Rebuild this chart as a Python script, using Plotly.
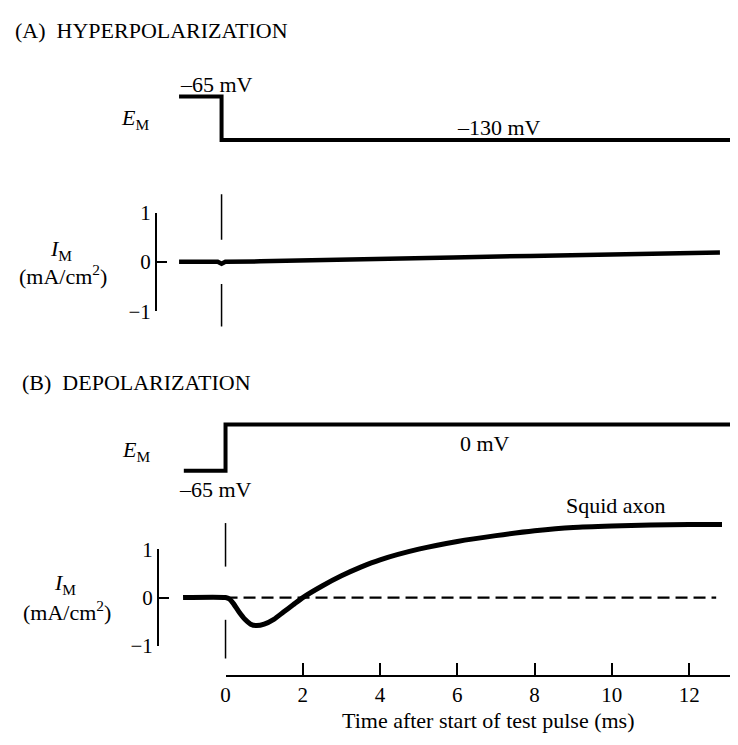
import plotly.graph_objects as go

# ---------------- data ----------------
time_ticks = [0, 2, 4, 6, 8, 10, 12]

# (A) hyperpolarization
t_em_a = [-1.1, 0.0, 13.6]
em_a = [-65, -130, -130]
t_im_a = [-1.1, -0.1, 0.0, 0.1, 1.0, 2.0, 4.0, 6.0, 8.0, 10.0, 12.0, 12.9]
im_a = [0.0, 0.0, -0.04, 0.0, 0.01, 0.03, 0.06, 0.09, 0.12, 0.15, 0.18, 0.19]
mark_a_t = [0, 0, None, 0, 0]
mark_a_i = [1.37, 0.45, None, -0.45, -1.31]

# (B) depolarization
t_em_b = [-1.08, 0.0, 13.5]
em_b = [-65, 0, 0]
t_im_b = [-1.1, 0.0, 0.1, 0.2, 0.35, 0.5, 0.65, 0.8, 1.0, 1.25, 1.5, 1.75, 2.0,
          2.5, 3.0, 3.5, 4.0, 5.0, 6.0, 7.0, 8.0, 9.0, 10.0, 11.0, 12.0, 12.85]
im_b = [0.0, 0.0, -0.03, -0.12, -0.3, -0.45, -0.55, -0.58, -0.55, -0.45, -0.3, -0.15, 0.0,
        0.24, 0.45, 0.63, 0.78, 1.0, 1.16, 1.28, 1.38, 1.45, 1.48, 1.5, 1.51, 1.51]
t_base_b = [0.0, 12.7]
base_b = [0.0, 0.0]
mark_b_t = [0, 0, None, 0, 0]
mark_b_i = [1.54, 0.64, None, -0.46, -1.26]

# ---------------- layout helpers (page pixels) ----------------
OFF = 8                      # page body margin
W, H = 730, 737              # figure size so that it ends at the window edge
S = 38.9                     # px per ms
FONT = "Liberation Serif"
blk = "black"


def fx(p):
    return (p - OFF) / W


def fy(p):
    return 1 - (p - OFF) / H


def ydom(top, bottom):
    return [fy(bottom), fy(top)]


def yrng(top, bottom, v0, p0, s):
    return [v0 - (bottom - p0) / s, v0 + (p0 - top) / s]


def xrng(zero_px):
    return [(OFF - zero_px) / S, (OFF + W - zero_px) / S]


fig = go.Figure()

# panel A
fig.add_trace(go.Scatter(x=t_em_a, y=em_a, mode="lines", line=dict(color=blk, width=4, shape="hv"),
                         xaxis="x", yaxis="y"))
fig.add_trace(go.Scatter(x=t_im_a, y=im_a, mode="lines", line=dict(color=blk, width=4.5),
                         xaxis="x", yaxis="y2"))
fig.add_trace(go.Scatter(x=mark_a_t, y=mark_a_i, mode="lines", line=dict(color=blk, width=1.5),
                         xaxis="x", yaxis="y2"))
fig.add_trace(go.Scatter(x=[None], y=[None], mode="lines", xaxis="x", yaxis="y3"))

# panel B
fig.add_trace(go.Scatter(x=t_em_b, y=em_b, mode="lines", line=dict(color=blk, width=4, shape="hv"),
                         xaxis="x2", yaxis="y4"))
fig.add_trace(go.Scatter(x=t_base_b, y=base_b, mode="lines",
                         line=dict(color=blk, width=2.2, dash="12px,6px"),
                         xaxis="x2", yaxis="y5"))
fig.add_trace(go.Scatter(x=t_im_b, y=im_b, mode="lines",
                         line=dict(color=blk, width=5, shape="spline", smoothing=0.6),
                         xaxis="x2", yaxis="y5"))
fig.add_trace(go.Scatter(x=mark_b_t, y=mark_b_i, mode="lines", line=dict(color=blk, width=1.5),
                         xaxis="x2", yaxis="y5"))
fig.add_trace(go.Scatter(x=[None], y=[None], mode="lines", xaxis="x2", yaxis="y6"))
fig.add_trace(go.Scatter(x=[None], y=[None], mode="lines", xaxis="x3", yaxis="y5"))

hidden = dict(visible=False, showgrid=False, zeroline=False)

scale_axis = dict(showline=True, linewidth=2, linecolor=blk, ticks="inside", ticklen=10,
                  tickwidth=2, tickcolor=blk, tickvals=[-1, 0, 1], range=[-1, 1],
                  showgrid=False, zeroline=False, fixedrange=True,
                  tickfont=dict(family=FONT, size=21, color=blk), anchor="free")

fig.update_layout(
    width=W, height=H,
    margin=dict(l=0, r=0, t=0, b=0),
    paper_bgcolor="white", plot_bgcolor="rgba(0,0,0,0)",
    showlegend=False,
    xaxis=dict(hidden, domain=[0, 1], range=xrng(218), anchor="y"),
    xaxis2=dict(hidden, domain=[0, 1], range=xrng(222), anchor="y4"),
    xaxis3=dict(domain=[fx(222), 1], range=[0, (OFF + W - 222) / S], anchor="y5",
                showline=True, linewidth=2, linecolor=blk, ticks="inside", ticklen=12,
                tickwidth=1.5, tickcolor=blk, tickvals=time_ticks, showgrid=False,
                zeroline=False, tickfont=dict(family=FONT, size=21, color=blk)),
    yaxis=dict(hidden, domain=ydom(60, 160), range=yrng(60, 160, -65, 87, 45 / 65), anchor="x"),
    yaxis2=dict(hidden, domain=ydom(170, 340), range=yrng(170, 340, 0, 258, 51), anchor="x"),
    yaxis3=dict(scale_axis, domain=ydom(207, 309), position=fx(152)),
    yaxis4=dict(hidden, domain=ydom(400, 500), range=yrng(400, 500, -65, 474, 48 / 65), anchor="x2"),
    yaxis5=dict(hidden, domain=ydom(505, 685), range=yrng(505, 685, 0, 605, 50), anchor="x2"),
    yaxis6=dict(scale_axis, domain=ydom(555, 655), position=fx(154)),
)


def ann(text, x, y, size=22, xanchor="center"):
    fig.add_annotation(text=text, x=fx(x), y=fy(y), xref="paper", yref="paper",
                       xanchor=xanchor, yanchor="middle", showarrow=False,
                       font=dict(family=FONT, size=size, color=blk))


ann("(A)\u00a0 HYPERPOLARIZATION", 8, 19, xanchor="left")
ann("–65 mV", 213, 75)
ann("<i>E</i><sub>M</sub>", 131, 110)
ann("–130 mV", 497, 119)
ann("<i>I</i><sub>M</sub>", 56, 246)
ann("(mA/cm<sup>2</sup>)", 58, 272)

ann("(B)\u00a0 DEPOLARIZATION", 15, 383, xanchor="left")
ann("<i>E</i><sub>M</sub>", 132, 453)
ann("–65 mV", 212, 493)
ann("0 mV", 483, 446)
ann("Squid axon", 615, 510)
ann("<i>I</i><sub>M</sub>", 60, 591)
ann("(mA/cm<sup>2</sup>)", 62, 619)
ann("Time after start of test pulse (ms)", 486, 732)

fig.write_html("out.html")
